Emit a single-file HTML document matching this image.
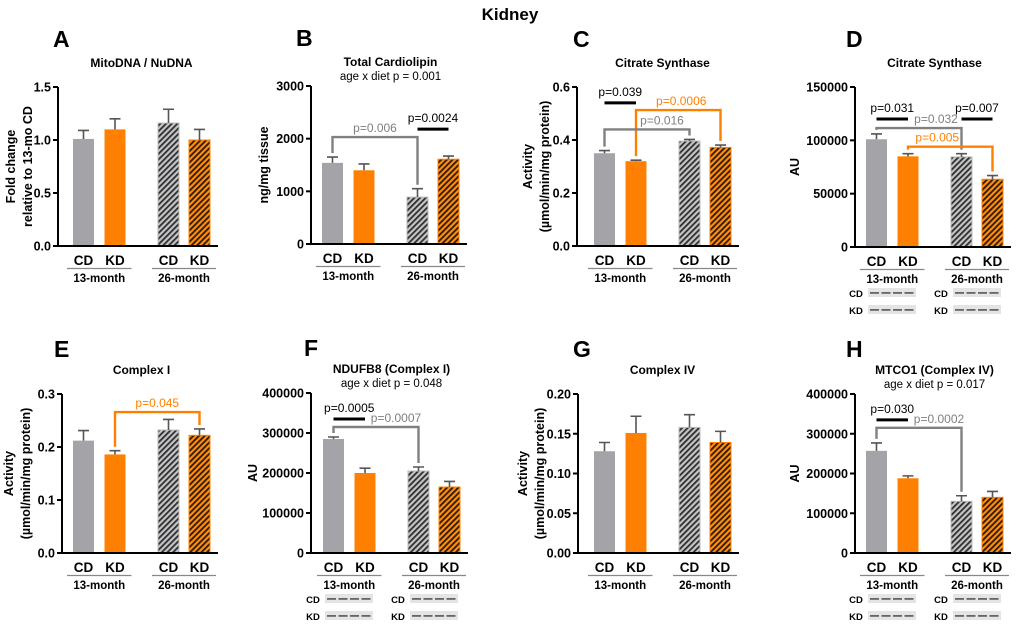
<!DOCTYPE html>
<html><head><meta charset="utf-8"><style>
body{margin:0;background:#fff;}
svg{display:block;font-family:"Liberation Sans",Arial,sans-serif;}
</style></head><body>
<svg id="fig" width="1020" height="627" viewBox="0 0 1020 627">
<defs>
<pattern id="hatchGray" patternUnits="userSpaceOnUse" width="4" height="4" patternTransform="rotate(45)">
<rect width="4" height="4" fill="#c4c4c6"/><rect width="1.8" height="4" fill="#2e2e2e"/></pattern>
<pattern id="hatchOrange" patternUnits="userSpaceOnUse" width="4" height="4" patternTransform="rotate(45)">
<rect width="4" height="4" fill="#ff8c10"/><rect width="1.8" height="4" fill="#2a1a00"/></pattern>
</defs>
<text x="510" y="20" text-anchor="middle" font-size="17" font-weight="bold">Kidney</text>
</svg>
<script>
const groups = ["CD","KD","CD","KD"];
const months = ["13-month","26-month"];
const aMeans=[1.01,1.10,1.16,1.00], aErrs=[0.08,0.10,0.13,0.10], aTicks=[0,0.5,1.0,1.5];
const bMeans=[1540,1400,890,1610], bErrs=[110,120,160,60], bTicks=[0,1000,2000,3000];
const cMeans=[0.350,0.320,0.396,0.372], cErrs=[0.010,0.004,0.006,0.009], cTicks=[0,0.2,0.4,0.6];
const dMeans=[101000,85000,84500,63500], dErrs=[5000,2500,3000,3500], dTicks=[0,50000,100000,150000];
const eMeans=[0.212,0.186,0.232,0.222], eErrs=[0.019,0.007,0.020,0.012], eTicks=[0,0.1,0.2,0.3];
const fMeans=[285000,200000,205000,165000], fErrs=[5000,12000,10000,14000], fTicks=[0,100000,200000,300000,400000];
const gMeans=[0.128,0.151,0.158,0.139], gErrs=[0.011,0.021,0.016,0.014], gTicks=[0,0.05,0.10,0.15,0.20];
const hMeans=[257000,188000,130000,140000], hErrs=[20000,6000,14000,15000], hTicks=[0,100000,200000,300000,400000];
const aTickLabels=["0.0","0.5","1.0","1.5"], bTickLabels=["0","1000","2000","3000"], cTickLabels=["0.0","0.2","0.4","0.6"];
const dTickLabels=["0","50000","100000","150000"], eTickLabels=["0.0","0.1","0.2","0.3"];
const fTickLabels=["0","100000","200000","300000","400000"], gTickLabels=["0.00","0.05","0.10","0.15","0.20"];
const hTickLabels=fTickLabels;
const bAnn=[{t:'bracket',i:0,j:2,y:2030,txt:'p=0.006',c:'#808080',dx:0},{t:'line',i:2,j:3,y:2180,txt:'p=0.0024',c:'#000',dx:0}];
const cAnn=[{t:'line',i:0,j:1,y:0.54,txt:'p=0.039',c:'#000',dx:0},{t:'bracket',i:1,j:3,y:0.513,txt:'p=0.0006',c:'#ff8000',dx:3},{t:'bracket',i:0,j:2,y:0.44,txt:'p=0.016',c:'#808080',dx:15}];
const dAnn=[{t:'line',i:0,j:1,y:120000,txt:'p=0.031',c:'#000',dx:0},{t:'line',i:2,j:3,y:120000,txt:'p=0.007',c:'#000',dx:0},{t:'bracket',i:0,j:2,y:111500,txt:'p=0.032',c:'#808080',dx:17},{t:'bracket',i:1,j:3,y:94000,txt:'p=0.005',c:'#ff8000',dx:-13}];
const eAnn=[{t:'bracket',i:1,j:3,y:0.266,txt:'p=0.045',c:'#ff8000',dx:0}];
const fAnn=[{t:'line',i:0,j:1,y:335000,txt:'p=0.0005',c:'#000',dx:0},{t:'bracket',i:0,j:2,y:315000,txt:'p=0.0007',c:'#808080',dx:20}];
const hAnn=[{t:'line',i:0,j:1,y:335000,txt:'p=0.030',c:'#000',dx:0},{t:'bracket',i:0,j:2,y:315000,txt:'p=0.0002',c:'#808080',dx:20}];

const svg=document.getElementById('fig');
const NS='http://www.w3.org/2000/svg';
function mk(tag,attrs,parent){const e=document.createElementNS(NS,tag);for(const k in attrs)e.setAttribute(k,attrs[k]);(parent||svg).appendChild(e);return e;}
function txt(x,y,s,size,weight,anchor,fill,parent){const t=mk('text',{x:x,y:y,'font-size':size,'font-weight':weight||'normal','text-anchor':anchor||'middle',fill:fill||'#000'},parent);t.textContent=s;return t;}
const OFF=[0,31.5,85,116], BW=21;
const FILLS=['#a4a4a8','#ff8000','url(#hatchGray)','url(#hatchOrange)'];

function panel(p){
  const g=mk('g',{});
  
  
  const ys=v=>p.bottom-(v/p.max)*(p.bottom-p.top);
  const bx=i=>p.bar0+OFF[i];
  const L=txt(p.lx,p.top-(p.row2?37:40),p.letter,23,'bold','start','#000',g);
  
  
  const cx=(p.bar0+p.bar0+137)/2+ (p.tdx||0);
  const T=txt(cx,p.top-20,p.title,12,'bold','middle','#000',g);
  
  
  if(p.sub){const S=txt(cx,p.top-6,p.sub,11.5,'normal','middle','#000',g);
    
    }
  p.means.forEach((m,i)=>{
    const y=ys(m);
    const r=mk('rect',{x:bx(i),y:y,width:BW,height:p.bottom-y,fill:FILLS[i]},g);
    if(i>=2){r.setAttribute('stroke',i==2?'#bdbdbd':'#ff8000');r.setAttribute('stroke-width','1');}
    
    
    const ey=ys(m+p.errs[i]), c=bx(i)+BW/2;
    const e=mk('path',{d:`M${c},${y}V${ey}M${c-5.5},${ey}H${c+5.5}`,stroke:'#555',
      'stroke-width':1.6,fill:'none'},g);
    
    
    const gl=txt(c,p.bottom+19,groups[i],13.5,'bold','middle','#000',g);
    
    
  });
  const ax=mk('path',{d:`M${p.axis},${p.top}V${p.bottom}H${p.bar0+145}`,stroke:'#000','stroke-width':2,fill:'none'},g);
  
  
  p.ticks.forEach((t,k)=>{
    const y=ys(t);
    mk('line',{x1:p.axis-5,x2:p.axis,y1:y,y2:y,stroke:'#000','stroke-width':2},g);
    const tl=txt(p.axis-7,y+4.5,p.tickLabels[k],12.5,'bold','end','#000',g);
    
    
  });
  [0,1].forEach(k=>{
    const x1=bx(k*2)-6,x2=bx(k*2+1)+BW+6;
    mk('line',{x1:x1,x2:x2,y1:p.bottom+22.5,y2:p.bottom+22.5,stroke:'#888','stroke-width':1.3},g);
    const ml=txt((x1+x2)/2,p.bottom+36,months[k],11.5,'bold','middle','#000',g);
    
    
  });
  const yl=mk('text',{transform:`translate(${p.ylx},${(p.top+p.bottom)/2}) rotate(-90)`,'font-size':12.5,'font-weight':'bold','text-anchor':'middle'},g);
  
  
  p.ylab.forEach((s,k)=>{const ts=mk('tspan',{x:0,y:k*17},yl);ts.textContent=s;});
  (p.ann||[]).forEach(a=>{
    const c1=bx(a.i)+BW/2,c2=bx(a.j)+BW/2,y=ys(a.y);
    if(a.t==='line'){
      const ln=mk('path',{d:`M${c1},${y}H${c2}`,stroke:a.c,'stroke-width':3,fill:'none'},g);
      
      
      const at=txt((c1+c2)/2+a.dx,y-7,a.txt,12,'normal','middle',a.c,g);
      
      
    } else {
      const y1=ys(p.means[a.i]+p.errs[a.i])-4,y2=ys(p.means[a.j]+p.errs[a.j])-4;
      const br=mk('path',{d:`M${c1},${y1}V${y}H${c2}V${y2}`,stroke:a.c,'stroke-width':2.4,fill:'none'},g);
      
      
      const at=txt((c1+c2)/2+a.dx,y-5,a.txt,12,'normal','middle',a.c,g);
      
      
    }
  });
  if(p.blot){
    ['CD','KD'].forEach((lab,r)=>{
      const yy=p.bottom+46+r*17;
      [0,1].forEach(k=>{
        const base=p.bar0+k*85;
        const bl=txt(base-10,yy+4,lab,9.5,'bold','middle','#000',g);
        
        
        const bx0=base+2;
        const box=mk('rect',{x:bx0,y:yy-5,width:48,height:9,fill:'#e4e4e4'},g);
        
        
        for(let q=0;q<4;q++) mk('rect',{x:bx0+2+q*11.5,y:yy-1,width:9,height:1.8,fill:'#666'},g);
      });
    });
  }
}
panel({letter:'A',lx:53,axis:58,top:87,bottom:246,bar0:73,max:1.5,means:aMeans,errs:aErrs,ticks:aTicks,tickLabels:aTickLabels,title:'MitoDNA / NuDNA',ylx:15,ylab:['Fold change','relative to 13-mo CD'],ann:[]});
panel({letter:'B',lx:296,axis:311,top:86,bottom:244,bar0:322,max:3000,means:bMeans,errs:bErrs,ticks:bTicks,tickLabels:bTickLabels,title:'Total Cardiolipin',sub:'age x diet p = 0.001',ylx:268,ylab:['ng/mg tissue'],ann:bAnn});
panel({letter:'C',lx:573,axis:577,top:87,bottom:246,bar0:594,max:0.6,means:cMeans,errs:cErrs,ticks:cTicks,tickLabels:cTickLabels,title:'Citrate Synthase',ylx:532,ylab:['Activity','(µmol/min/mg protein)'],ann:cAnn});
panel({letter:'D',lx:846,axis:855,top:87,bottom:247,bar0:866,max:150000,means:dMeans,errs:dErrs,ticks:dTicks,tickLabels:dTickLabels,title:'Citrate Synthase',ylx:799,ylab:['AU'],ann:dAnn,blot:true});
panel({letter:'E',lx:54,axis:62,top:394,bottom:553,bar0:73,max:0.3,row2:true,means:eMeans,errs:eErrs,ticks:eTicks,tickLabels:eTickLabels,title:'Complex I',ylx:13,ylab:['Activity','(µmol/min/mg protein)'],ann:eAnn});
panel({letter:'F',lx:304,axis:311,top:393,bottom:553,bar0:323,max:400000,row2:true,means:fMeans,errs:fErrs,ticks:fTicks,tickLabels:fTickLabels,title:'NDUFB8 (Complex I)',sub:'age x diet p = 0.048',ylx:257,ylab:['AU'],ann:fAnn,blot:true});
panel({letter:'G',lx:573,axis:578,top:394,bottom:553,bar0:594,max:0.2,row2:true,means:gMeans,errs:gErrs,ticks:gTicks,tickLabels:gTickLabels,title:'Complex IV',ylx:527,ylab:['Activity','(µmol/min/mg protein)'],ann:[]});
panel({letter:'H',lx:846,axis:855,top:394,bottom:553,bar0:866,max:400000,row2:true,means:hMeans,errs:hErrs,ticks:hTicks,tickLabels:hTickLabels,title:'MTCO1 (Complex IV)',sub:'age x diet p = 0.017',ylx:799,ylab:['AU'],ann:hAnn,blot:true});
</script>
</body></html>
